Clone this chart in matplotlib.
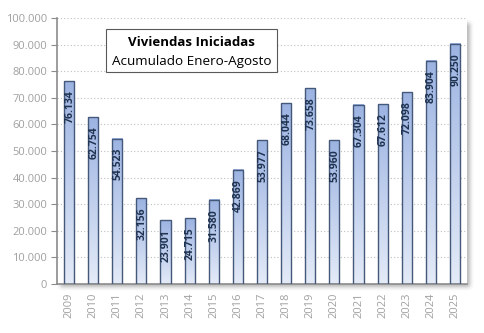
import matplotlib
matplotlib.use("Agg")
import matplotlib.pyplot as plt
import numpy as np
from matplotlib.patches import Rectangle
from matplotlib.colors import LinearSegmentedColormap
from matplotlib.ticker import FuncFormatter

years = ["2009", "2010", "2011", "2012", "2013", "2014", "2015", "2016", "2017",
         "2018", "2019", "2020", "2021", "2022", "2023", "2024", "2025"]
values = [76134, 62754, 54523, 32156, 23901, 24715, 31580, 42869, 53977,
          68044, 73658, 53960, 67304, 67612, 72098, 83904, 90250]
title_line1 = "Viviendas Iniciadas"
title_line2 = "Acumulado Enero-Agosto"

W, H = 485, 333
fig = plt.figure(figsize=(W / 100, H / 100), dpi=100)
fig.patch.set_facecolor("white")

left, right, top, bottom = 57, 467, 18, 284
ax = fig.add_axes([left / W, 1 - bottom / H, (right - left) / W, (bottom - top) / H])

# soft shadow of plot area (blurred mask)
mask = np.zeros((H, W))
off = 3
mask[top + off + 2:bottom + off, left + off:right + off] = 1.0
k = np.ones(5) / 5.0
for _ in range(2):
    mask = np.apply_along_axis(lambda r: np.convolve(r, k, mode="same"), 1, mask)
    mask = np.apply_along_axis(lambda c: np.convolve(c, k, mode="same"), 0, mask)
shadow = np.zeros((H, W, 4))
shadow[..., :3] = 0.35
shadow[..., 3] = mask * 0.45
fig.figimage(shadow[::-1], xo=0, yo=0, origin="lower", zorder=0)

ax.set_zorder(1)
ax.set_facecolor("white")

x = np.arange(len(years))
bars = ax.bar(x, values, width=0.42, facecolor="none", edgecolor="#44597a", linewidth=1.0, zorder=3)

cmap = LinearSegmentedColormap.from_list("g", ["#e4ebf8", "#9cb3e2"])
grad = np.linspace(0, 1, 256).reshape(-1, 1)
for b in bars:
    bx, bw, bh = b.get_x(), b.get_width(), b.get_height()
    ax.imshow(grad, extent=[bx, bx + bw, 0, bh], origin="lower", cmap=cmap,
              aspect="auto", zorder=2, interpolation="bilinear")

for xi, v in zip(x, values):
    lbl = f"{v:,}".replace(",", ".")
    ax.annotate(lbl, (xi, v), xytext=(0.5, -6.5), textcoords="offset points",
                ha="center", va="top", rotation=90, fontsize=7.5, fontweight="bold",
                color="#1f3350", family="Open Sans", zorder=4)

ax.set_xlim(-0.5, len(years) - 0.5)
ax.set_ylim(0, 100000)
ax.set_yticks(np.arange(0, 100001, 10000))
ax.yaxis.set_major_formatter(FuncFormatter(lambda v, p: f"{int(v):,}".replace(",", ".")))
ax.set_xticks(x)
ax.set_xticklabels(years, rotation=90)
ax.grid(axis="y", linestyle=(0, (1, 2)), color="#bfbfbf", linewidth=0.8, zorder=1)
ax.set_axisbelow(True)

for s in ["top", "right"]:
    ax.spines[s].set_visible(False)
for s in ["left", "bottom"]:
    ax.spines[s].set_color("#8c8c8c")
    ax.spines[s].set_linewidth(1.2)
ax.tick_params(axis="y", length=4, color="#8c8c8c", labelsize=8, labelcolor="#a0a0a0", pad=3)
ax.tick_params(axis="x", length=0, labelsize=8, labelcolor="#a0a0a0", pad=6)
for t in ax.get_xticklabels() + ax.get_yticklabels():
    t.set_family("Open Sans")

# title box
bx0, by0, bx1, by1 = 106, 29, 277, 72
fig.patches.append(Rectangle((bx0 / W, 1 - by1 / H), (bx1 - bx0) / W, (by1 - by0) / H,
                             transform=fig.transFigure, facecolor="white", edgecolor="#595959",
                             linewidth=0.8, zorder=5))
cx = (bx0 + bx1) / 2 / W
fig.text(cx, 1 - 42 / H, title_line1, ha="center", va="center", fontsize=9.5, fontweight="bold",
         family="Open Sans", color="black", zorder=6)
fig.text(cx, 1 - 61 / H, title_line2, ha="center", va="center", fontsize=9.7,
         family="Open Sans", color="black", zorder=6)

fig.savefig("out.png", dpi=100)
